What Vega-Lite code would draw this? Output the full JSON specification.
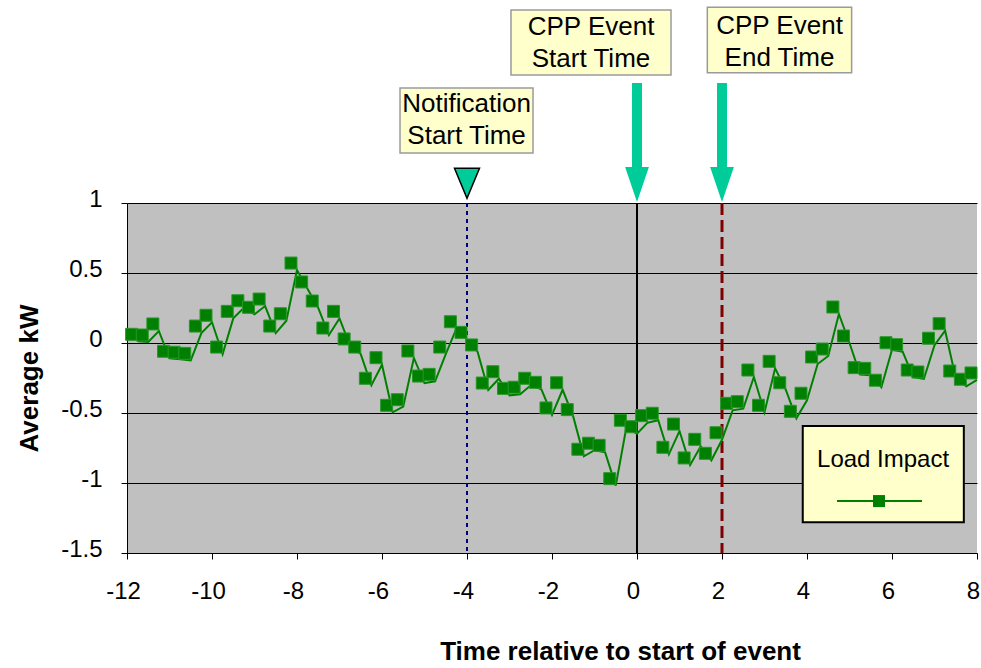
{
  "$schema": "https://vega.github.io/schema/vega-lite/v6.json",
  "width": 850,
  "height": 350,
  "autosize": {"type": "none"},
  "padding": {"left": 127, "top": 203, "right": 4, "bottom": 115},
  "background": "white",
  "config": {
    "font": "Liberation Sans",
    "view": {"fill": "#C0C0C0", "stroke": null},
    "axis": {
      "labelFont": "Liberation Sans",
      "titleFont": "Liberation Sans",
      "labelColor": "black",
      "titleColor": "black",
      "domainColor": "black",
      "tickColor": "black",
      "gridColor": "black",
      "gridOpacity": 1,
      "gridWidth": 1,
      "domainWidth": 1,
      "tickWidth": 1,
      "tickSize": 6,
      "labelFontSize": 24,
      "titleFontSize": 26,
      "titleFontWeight": "bold",
      "labelFlush": false,
      "labelExpr": "'' + datum.value"
    },
    "axisX": {"grid": false, "labelPadding": 20, "labelOffset": -4, "titlePadding": 35, "titleX": 493},
    "axisY": {"grid": true, "labelPadding": 19, "labelOffset": -4, "titlePadding": 18}
  },
  "datasets": {
    "load": [
      {"t": -11.75, "kw": 0.012}, {"t": -11.5, "kw": 0.007}, {"t": -11.25, "kw": 0.086}, {"t": -11, "kw": -0.109},
      {"t": -10.75, "kw": -0.116}, {"t": -10.5, "kw": -0.124}, {"t": -10.25, "kw": 0.071}, {"t": -10, "kw": 0.148},
      {"t": -9.75, "kw": -0.079}, {"t": -9.5, "kw": 0.176}, {"t": -9.25, "kw": 0.252}, {"t": -9, "kw": 0.205},
      {"t": -8.75, "kw": 0.264}, {"t": -8.5, "kw": 0.071}, {"t": -8.25, "kw": 0.159}, {"t": -8, "kw": 0.521},
      {"t": -7.75, "kw": 0.386}, {"t": -7.5, "kw": 0.25}, {"t": -7.25, "kw": 0.057}, {"t": -7, "kw": 0.176},
      {"t": -6.75, "kw": -0.021}, {"t": -6.5, "kw": -0.079}, {"t": -6.25, "kw": -0.302}, {"t": -6, "kw": -0.155},
      {"t": -5.75, "kw": -0.495}, {"t": -5.5, "kw": -0.455}, {"t": -5.25, "kw": -0.107}, {"t": -5, "kw": -0.286},
      {"t": -4.75, "kw": -0.274}, {"t": -4.5, "kw": -0.079}, {"t": -4.25, "kw": 0.102}, {"t": -4, "kw": 0.026},
      {"t": -3.75, "kw": -0.064}, {"t": -3.5, "kw": -0.336}, {"t": -3.25, "kw": -0.255}, {"t": -3, "kw": -0.374},
      {"t": -2.75, "kw": -0.366}, {"t": -2.5, "kw": -0.302}, {"t": -2.25, "kw": -0.331}, {"t": -2, "kw": -0.514},
      {"t": -1.75, "kw": -0.334}, {"t": -1.5, "kw": -0.526}, {"t": -1.25, "kw": -0.809}, {"t": -1, "kw": -0.766},
      {"t": -0.75, "kw": -0.781}, {"t": -0.5, "kw": -1.019}, {"t": -0.25, "kw": -0.602}, {"t": 0, "kw": -0.648},
      {"t": 0.25, "kw": -0.569}, {"t": 0.5, "kw": -0.552}, {"t": 0.75, "kw": -0.795}, {"t": 1, "kw": -0.629},
      {"t": 1.25, "kw": -0.871}, {"t": 1.5, "kw": -0.738}, {"t": 1.75, "kw": -0.838}, {"t": 2, "kw": -0.691},
      {"t": 2.25, "kw": -0.481}, {"t": 2.5, "kw": -0.469}, {"t": 2.75, "kw": -0.243}, {"t": 3, "kw": -0.495},
      {"t": 3.25, "kw": -0.181}, {"t": 3.5, "kw": -0.334}, {"t": 3.75, "kw": -0.538}, {"t": 4, "kw": -0.409},
      {"t": 4.25, "kw": -0.15}, {"t": 4.5, "kw": -0.093}, {"t": 4.75, "kw": 0.207}, {"t": 5, "kw": 0.0},
      {"t": 5.25, "kw": -0.226}, {"t": 5.5, "kw": -0.231}, {"t": 5.75, "kw": -0.316}, {"t": 6, "kw": -0.048},
      {"t": 6.25, "kw": -0.062}, {"t": 6.5, "kw": -0.243}, {"t": 6.75, "kw": -0.257}, {"t": 7, "kw": -0.016},
      {"t": 7.25, "kw": 0.088}, {"t": 7.5, "kw": -0.25}, {"t": 7.75, "kw": -0.309}, {"t": 8, "kw": -0.264}
    ],
    "boxes": [
      {"x1": -5.576, "x2": -2.447, "y1": 1.821, "y2": 1.357, "tx": -4.01, "ty": 1.707, "label": ["Notification", "Start Time"]},
      {"x1": -2.965, "x2": 0.8, "y1": 2.379, "y2": 1.914, "tx": -1.082, "ty": 2.257, "label": ["CPP Event", "Start Time"]},
      {"x1": 1.655, "x2": 5.05, "y1": 2.398, "y2": 1.931, "tx": 3.353, "ty": 2.264, "label": ["CPP Event", "End Time"]}
    ],
    "arrows": [{"t": 0, "y": 1.432}, {"t": 2, "y": 1.432}],
    "notif": [{"t": -4, "y": 1.141}],
    "legend": [{"x1": 3.9, "x2": 7.69, "y1": -0.593, "y2": -1.281, "tx": 5.79, "ty": -0.836, "label": "Load Impact", "lx1": 4.706, "lx2": 6.706, "ly": -1.129, "mx": 5.694}]
  },
  "layer": [
    {
      "data": {"values": [{"t": -4}]},
      "mark": {"type": "rule", "color": "#000080", "strokeWidth": 2, "strokeDash": [4, 4]},
      "encoding": {"x": {"field": "t", "type": "quantitative", "scale": {"domain": [-12, 8], "nice": false, "zero": false}, "axis": {"title": "Time relative to start of event", "values": [-12, -10, -8, -6, -4, -2, 0, 2, 4, 6, 8]}}}
    },
    {
      "data": {"values": [{"t": 0}]},
      "mark": {"type": "rule", "color": "black", "strokeWidth": 2},
      "encoding": {"x": {"field": "t", "type": "quantitative", "scale": {"domain": [-12, 8], "nice": false, "zero": false}, "axis": {"title": "Time relative to start of event", "values": [-12, -10, -8, -6, -4, -2, 0, 2, 4, 6, 8]}}}
    },
    {
      "data": {"values": [{"t": 2}]},
      "mark": {"type": "rule", "color": "#800000", "strokeWidth": 3, "strokeDash": [12, 5]},
      "encoding": {"x": {"field": "t", "type": "quantitative", "scale": {"domain": [-12, 8], "nice": false, "zero": false}, "axis": {"title": "Time relative to start of event", "values": [-12, -10, -8, -6, -4, -2, 0, 2, 4, 6, 8]}}}
    },
    {
      "data": {"name": "load"},
      "mark": {"type": "line", "color": "#008000", "strokeWidth": 2},
      "encoding": {
        "x": {"field": "t", "type": "quantitative", "scale": {"domain": [-12, 8], "nice": false, "zero": false}, "axis": {"title": "Time relative to start of event", "values": [-12, -10, -8, -6, -4, -2, 0, 2, 4, 6, 8]}},
        "y": {"field": "kw", "type": "quantitative", "scale": {"domain": [-1.5, 1], "nice": false, "zero": false}, "axis": {"title": "Average kW", "values": [-1.5, -1, -0.5, 0, 0.5, 1]}}
      }
    },
    {
      "data": {"name": "load"},
      "mark": {"type": "point", "shape": "square", "filled": true, "size": 144, "color": "#008000", "stroke": "#2a962a", "strokeWidth": 1, "opacity": 1, "xOffset": -6, "yOffset": -7},
      "encoding": {
        "x": {"field": "t", "type": "quantitative", "scale": {"domain": [-12, 8], "nice": false, "zero": false}, "axis": {"title": "Time relative to start of event", "values": [-12, -10, -8, -6, -4, -2, 0, 2, 4, 6, 8]}},
        "y": {"field": "kw", "type": "quantitative", "scale": {"domain": [-1.5, 1], "nice": false, "zero": false}, "axis": {"title": "Average kW", "values": [-1.5, -1, -0.5, 0, 0.5, 1]}}
      }
    },
    {
      "data": {"name": "boxes"},
      "mark": {"type": "rect", "fill": "#FFFFCC", "stroke": "#9a9a9a", "strokeWidth": 1.5},
      "encoding": {
        "x": {"field": "x1", "type": "quantitative", "scale": {"domain": [-12, 8], "nice": false, "zero": false}, "axis": {"title": "Time relative to start of event", "values": [-12, -10, -8, -6, -4, -2, 0, 2, 4, 6, 8]}},
        "x2": {"field": "x2"},
        "y": {"field": "y1", "type": "quantitative", "scale": {"domain": [-1.5, 1], "nice": false, "zero": false}, "axis": {"title": "Average kW", "values": [-1.5, -1, -0.5, 0, 0.5, 1]}},
        "y2": {"field": "y2"}
      }
    },
    {
      "data": {"name": "boxes"},
      "mark": {"type": "text", "fontSize": 26, "lineHeight": 32, "align": "center", "baseline": "middle", "color": "black"},
      "encoding": {
        "x": {"field": "tx", "type": "quantitative", "scale": {"domain": [-12, 8], "nice": false, "zero": false}, "axis": {"title": "Time relative to start of event", "values": [-12, -10, -8, -6, -4, -2, 0, 2, 4, 6, 8]}},
        "y": {"field": "ty", "type": "quantitative", "scale": {"domain": [-1.5, 1], "nice": false, "zero": false}, "axis": {"title": "Average kW", "values": [-1.5, -1, -0.5, 0, 0.5, 1]}},
        "text": {"field": "label"}
      }
    },
    {
      "data": {"name": "arrows"},
      "mark": {"type": "point", "shape": "M-0.084,-1L0.084,-1L0.084,0.412L0.2,0.412L0,1L-0.2,0.412L-0.084,0.412Z", "filled": true, "size": 14161, "color": "#00CC99", "opacity": 1},
      "encoding": {
        "x": {"field": "t", "type": "quantitative", "scale": {"domain": [-12, 8], "nice": false, "zero": false}, "axis": {"title": "Time relative to start of event", "values": [-12, -10, -8, -6, -4, -2, 0, 2, 4, 6, 8]}},
        "y": {"field": "y", "type": "quantitative", "scale": {"domain": [-1.5, 1], "nice": false, "zero": false}, "axis": {"title": "Average kW", "values": [-1.5, -1, -0.5, 0, 0.5, 1]}}
      }
    },
    {
      "data": {"name": "notif"},
      "mark": {"type": "point", "shape": "M-0.833,-1L0.833,-1L0,1Z", "filled": true, "size": 900, "fill": "#00CC99", "stroke": "black", "strokeWidth": 1.5, "opacity": 1},
      "encoding": {
        "x": {"field": "t", "type": "quantitative", "scale": {"domain": [-12, 8], "nice": false, "zero": false}, "axis": {"title": "Time relative to start of event", "values": [-12, -10, -8, -6, -4, -2, 0, 2, 4, 6, 8]}},
        "y": {"field": "y", "type": "quantitative", "scale": {"domain": [-1.5, 1], "nice": false, "zero": false}, "axis": {"title": "Average kW", "values": [-1.5, -1, -0.5, 0, 0.5, 1]}}
      }
    },
    {
      "data": {"name": "legend"},
      "mark": {"type": "rect", "fill": "#FFFFCC", "stroke": "black", "strokeWidth": 2},
      "encoding": {
        "x": {"field": "x1", "type": "quantitative", "scale": {"domain": [-12, 8], "nice": false, "zero": false}, "axis": {"title": "Time relative to start of event", "values": [-12, -10, -8, -6, -4, -2, 0, 2, 4, 6, 8]}},
        "x2": {"field": "x2"},
        "y": {"field": "y1", "type": "quantitative", "scale": {"domain": [-1.5, 1], "nice": false, "zero": false}, "axis": {"title": "Average kW", "values": [-1.5, -1, -0.5, 0, 0.5, 1]}},
        "y2": {"field": "y2"}
      }
    },
    {
      "data": {"name": "legend"},
      "mark": {"type": "text", "fontSize": 24, "align": "center", "baseline": "middle", "color": "black"},
      "encoding": {
        "x": {"field": "tx", "type": "quantitative", "scale": {"domain": [-12, 8], "nice": false, "zero": false}, "axis": {"title": "Time relative to start of event", "values": [-12, -10, -8, -6, -4, -2, 0, 2, 4, 6, 8]}},
        "y": {"field": "ty", "type": "quantitative", "scale": {"domain": [-1.5, 1], "nice": false, "zero": false}, "axis": {"title": "Average kW", "values": [-1.5, -1, -0.5, 0, 0.5, 1]}},
        "text": {"field": "label"}
      }
    },
    {
      "data": {"name": "legend"},
      "mark": {"type": "rule", "color": "#008000", "strokeWidth": 2},
      "encoding": {
        "x": {"field": "lx1", "type": "quantitative", "scale": {"domain": [-12, 8], "nice": false, "zero": false}, "axis": {"title": "Time relative to start of event", "values": [-12, -10, -8, -6, -4, -2, 0, 2, 4, 6, 8]}},
        "x2": {"field": "lx2"},
        "y": {"field": "ly", "type": "quantitative", "scale": {"domain": [-1.5, 1], "nice": false, "zero": false}, "axis": {"title": "Average kW", "values": [-1.5, -1, -0.5, 0, 0.5, 1]}}
      }
    },
    {
      "data": {"name": "legend"},
      "mark": {"type": "point", "shape": "square", "filled": true, "size": 144, "color": "#008000", "opacity": 1},
      "encoding": {
        "x": {"field": "mx", "type": "quantitative", "scale": {"domain": [-12, 8], "nice": false, "zero": false}, "axis": {"title": "Time relative to start of event", "values": [-12, -10, -8, -6, -4, -2, 0, 2, 4, 6, 8]}},
        "y": {"field": "ly", "type": "quantitative", "scale": {"domain": [-1.5, 1], "nice": false, "zero": false}, "axis": {"title": "Average kW", "values": [-1.5, -1, -0.5, 0, 0.5, 1]}}
      }
    }
  ]
}
